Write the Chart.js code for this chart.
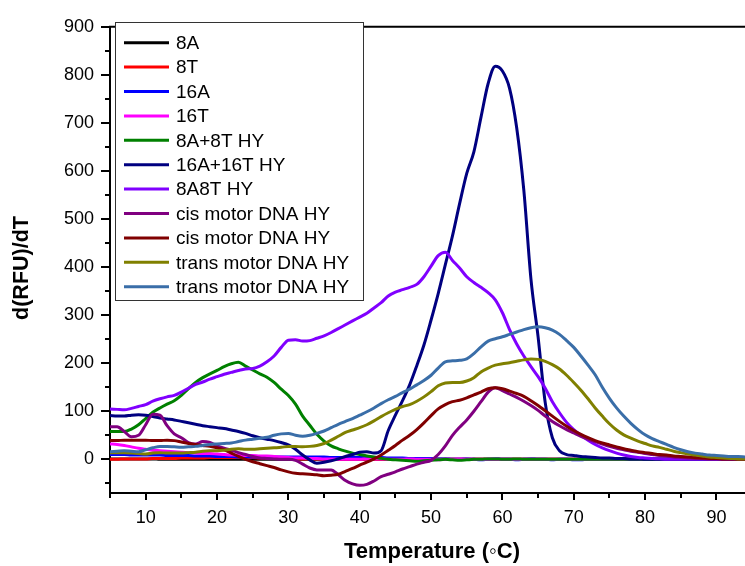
<!DOCTYPE html>
<html>
<head>
<meta charset="utf-8">
<script src="https://cdn.jsdelivr.net/npm/chart.js@4.4.1/dist/chart.umd.min.js"></script>
<style>
    html, body { margin: 0; padding: 0; background: #fff; }
    #wrap { width: 745px; height: 566px; }
</style>
</head>
<body>
<div id="wrap"><canvas id="melt-chart" width="745" height="566"></canvas></div>
<script>
// temperatura (°C), um ponto por grau
const temps = [
    5, 6, 7, 8, 9, 10, 11, 12, 13, 14,
    15, 16, 17, 18, 19, 20, 21, 22, 23, 24,
    25, 26, 27, 28, 29, 30, 31, 32, 33, 34,
    35, 36, 37, 38, 39, 40, 41, 42, 43, 44,
    45, 46, 47, 48, 49, 50, 51, 52, 53, 54,
    55, 56, 57, 58, 59, 60, 61, 62, 63, 64,
    65, 66, 67, 68, 69, 70, 71, 72, 73, 74,
    75, 76, 77, 78, 79, 80, 81, 82, 83, 84,
    85, 86, 87, 88, 89, 90, 91, 92, 93, 94
];

const seriesNames = [
    '8A', '8T', '16A', '16T', '8A+8T HY', '16A+16T HY', '8A8T HY',
    'cis motor DNA HY', 'cis motor DNA HY', 'trans motor DNA HY', 'trans motor DNA HY'
];

const seriesColors = [
    '#000000', '#FF0000', '#0000FF', '#FF00FF', '#008000', '#000080', '#8000FF',
    '#800080', '#800000', '#808000', '#3A6EA8'
];

const a8 = [
    1, 1, 1, 1, 1, 1, 1, 0, 0, 0,
    0, 0, 0, 0, 0, 0, 0, 0, 0, 0,
    0, 0, 0, 0, 0, 0, 0, 0, 0, 0,
    0, 0, 0, 0, 0, 0, 0, 0, 0, 0,
    0, 0, 0, 0, 0, 0, 0, 0, 0, 0,
    0, 0, 0, 0, 0, 0, 0, 0, 0, 0,
    0, 0, 0, 0, 0, 0, 0, 0, 0, 0,
    0, 0, 0, 0, 0, 0, 0, 0, 0, 0,
    0, 0, 0, 0, 0, 0, 0, 0, 0, 0
];
const t8 = [
    0, 0, 1, 1, 1, 1, 2, 2, 2, 2,
    3, 3, 3, 3, 4, 4, 4, 4, 4, 4,
    4, 3, 3, 3, 2, 2, 2, 1, 1, 1,
    1, 1, 0, 0, 0, 0, 0, 0, 0, 0,
    0, 0, 0, 0, 0, 0, 0, 0, 0, 0,
    0, 0, 0, 0, 0, 0, 0, 0, 0, 0,
    0, 0, 0, 0, 0, 0, 0, 0, 0, 0,
    0, 0, 0, 0, 0, 0, 0, 0, 0, 0,
    0, 0, 0, 0, 0, 0, 0, 0, 0, 0
];
const a16 = [
    10, 10, 10, 9, 9, 9, 9, 9, 8, 8,
    8, 8, 7, 7, 7, 6, 6, 6, 5, 5,
    5, 5, 5, 5, 5, 5, 5, 5, 5, 5,
    5, 4, 4, 4, 4, 4, 4, 4, 4, 3,
    3, 3, 2, 2, 2, 2, 1, 1, 0, 0,
    1, 0, -1, 0, 1, 0, 0, -1, 0, 1,
    0, 0, -1, 0, 0, -1, -1, 0, 0, 0,
    0, 0, 0, 0, 0, 0, 0, 0, 0, 0,
    0, 0, 0, 0, 0, 0, 0, 0, 0, 0
];
const t16 = [
    32, 31, 29, 26, 23, 21, 19, 18, 17, 16,
    15, 14, 13, 12, 12, 11, 10, 9, 9, 8,
    8, 7, 7, 6, 5, 4, 3, 3, 2, 2,
    1, 1, 0, 0, 0, 0, 1, 1, 1, 0,
    0, 0, 1, 0, 0, 0, -1, 0, 0, 1,
    0, 0, 0, 0, 0, 0, 0, 0, 0, 0,
    0, 0, 0, 0, 0, 0, 0, 0, 0, 0,
    0, 0, 0, 0, 0, 0, 0, 0, 0, 0,
    0, 0, 0, 0, 0, 0, 0, 0, 0, 0
];
const hy8 = [
    58, 58, 58, 63, 72, 85, 98, 107, 115, 122,
    133, 147, 160, 170, 178, 185, 193, 199, 202, 194,
    186, 178, 171, 160, 146, 133, 115, 90, 71, 52,
    38, 28, 22, 17, 13, 10, 7, 5, 2, 0,
    -1, -2, -3, -4, -3, -2, -1, 0, -1, -2,
    -1, 0, 0, 1, 1, 0, 0, 1, 0, 0,
    0, 0, 0, 0, 0, 0, 0, 0, 0, 0,
    0, 0, 0, 0, 0, 0, 0, 0, 0, 0,
    0, 0, 0, 0, 0, 0, 0, 0, 0, 0
];
const hy16 = [
    91, 90, 90, 92, 93, 92, 89, 86, 84, 82,
    79, 76, 73, 70, 68, 66, 64, 61, 58, 54,
    49, 45, 42, 39, 35, 30, 21, 9, -1, -8,
    -6, -3, 1, 6, 10, 15, 16, 13, 18, 60,
    92, 122, 155, 195, 238, 290, 345, 405, 465, 532,
    595, 640, 712, 782, 818, 808, 772, 690, 560, 375,
    255, 118, 45, 18, 10, 8, 6, 5, 4, 3,
    3, 2, 2, 1, 1, 0, 0, 0, 0, 0,
    0, 0, 0, 0, 0, 0, 0, 0, 0, 0
];
const hy8a8t = [
    105, 104, 103, 106, 110, 114, 121, 126, 130, 133,
    140, 148, 156, 161, 167, 172, 177, 181, 185, 188,
    189, 194, 203, 215, 233, 248, 249, 246, 247, 252,
    257, 264, 272, 280, 288, 296, 304, 315, 326, 340,
    348, 353, 358, 364, 380, 402, 424, 431, 414, 398,
    380, 368, 358, 347, 332, 305, 270, 240, 215, 193,
    172, 148, 120, 97, 77, 62, 50, 40, 31, 24,
    18, 13, 9, 6, 4, 3, 2, 1, 0, 0,
    0, 0, 0, 0, 0, 0, 0, 0, 0, 0
];
const cisA = [
    68, 68, 58, 47, 50, 72, 94, 92, 70, 53,
    45, 35, 32, 37, 35, 28, 23, 19, 14, 10,
    6, 3, 2, 1, 0, 0, -2, -10, -18, -22,
    -22, -22, -32, -44, -51, -54, -52, -45, -36, -31,
    -26, -20, -15, -10, -6, -2, 10, 28, 50, 67,
    82, 100, 120, 140, 149, 143, 136, 129, 121, 112,
    102, 90, 79, 70, 62, 55, 48, 42, 37, 32,
    27, 23, 20, 17, 15, 12, 10, 8, 7, 5,
    4, 3, 2, 2, 1, 1, 0, 0, 0, 0
];
const cisB = [
    39, 39, 40, 40, 40, 40, 39, 39, 40, 39,
    36, 33, 31, 29, 27, 24, 20, 13, 6, 0,
    -5, -9, -13, -17, -22, -26, -29, -30, -31, -32,
    -34, -33, -31, -25, -19, -12, -6, 1, 9, 19,
    29, 40, 50, 62, 76, 91, 105, 114, 120, 123,
    128, 134, 140, 147, 149, 147, 142, 137, 131, 122,
    112, 101, 90, 79, 69, 60, 52, 45, 39, 34,
    30, 26, 22, 19, 16, 14, 12, 10, 9, 7,
    6, 5, 4, 3, 2, 2, 1, 1, 0, 0
];
const transA = [
    14, 14, 14, 13, 12, 11, 13, 14, 13, 13,
    13, 14, 15, 17, 18, 18, 19, 21, 22, 21,
    21, 22, 23, 24, 25, 27, 27, 26, 27, 29,
    33, 40, 48, 56, 61, 66, 72, 80, 89, 97,
    104, 110, 114, 121, 130, 141, 153, 159, 160, 160,
    163, 170, 182, 190, 196, 199, 201, 204, 207, 209,
    208, 204, 197, 188, 175, 160, 144, 126, 107, 90,
    74, 61, 51, 44, 38, 33, 28, 25, 21, 17,
    14, 11, 9, 7, 5, 4, 3, 2, 1, 1
];
const transB = [
    16, 17, 18, 17, 16, 20, 24, 27, 27, 26,
    25, 26, 27, 29, 31, 32, 33, 34, 37, 40,
    42, 44, 46, 50, 53, 54, 50, 48, 50, 54,
    59, 66, 73, 79, 85, 92, 99, 107, 116, 124,
    131, 139, 146, 155, 164, 175, 190, 203, 205, 206,
    209, 220, 234, 246, 251, 255, 260, 265, 270, 274,
    276, 274, 269, 260, 247, 233, 215, 196, 176, 150,
    127, 107, 90, 75, 62, 51, 43, 37, 31, 25,
    20, 16, 13, 11, 9, 8, 7, 6, 6, 5
];

const seriesValues = [a8, t8, a16, t16, hy8, hy16, hy8a8t, cisA, cisB, transA, transB];

const xTicks = [10, 20, 30, 40, 50, 60, 70, 80, 90];
const xMinorTicks = [5, 15, 25, 35, 45, 55, 65, 75, 85];
const yTicks = [0, 100, 200, 300, 400, 500, 600, 700, 800, 900];
const yMinorTicks = [-50, 50, 150, 250, 350, 450, 550, 650, 750, 850];

const xTitle = 'Temperature (\u25E6C)';
const yTitle = 'd(RFU)/dT';

const FONT = "'Liberation Sans', Arial, sans-serif";

// eixos estilo Origin: traços para fora, linha no topo, títulos e legenda em caixa
const originFrame = {
    id: 'originFrame',
    afterDatasetsDraw(chart) {
        const ctx = chart.ctx;
        const area = chart.chartArea;
        const xs = chart.scales.x;
        const ys = chart.scales.y;

        ctx.save();
        ctx.strokeStyle = '#000';
        ctx.lineWidth = 2;

        ctx.beginPath();
        ctx.moveTo(area.left - 1, area.top);
        ctx.lineTo(area.right, area.top);
        ctx.stroke();

        const tick = (x1, y1, x2, y2) => {
            ctx.beginPath();
            ctx.moveTo(x1, y1);
            ctx.lineTo(x2, y2);
            ctx.stroke();
        };
        xTicks.forEach((v) => {
            const px = Math.round(xs.getPixelForValue(v));
            tick(px, area.bottom, px, area.bottom + 7);
        });
        xMinorTicks.forEach((v) => {
            const px = Math.round(xs.getPixelForValue(v));
            tick(px, area.bottom, px, area.bottom + 5);
        });
        yTicks.forEach((v) => {
            const py = Math.round(ys.getPixelForValue(v));
            tick(area.left, py, area.left - 9, py);
        });
        yMinorTicks.forEach((v) => {
            const py = Math.round(ys.getPixelForValue(v));
            tick(area.left, py, area.left - 5, py);
        });

        // títulos dos eixos
        ctx.fillStyle = '#000';
        ctx.font = `bold 22px ${FONT}`;
        ctx.textAlign = 'center';
        ctx.textBaseline = 'middle';
        ctx.fillText(xTitle, 432, 552);

        ctx.save();
        ctx.translate(22, 268);
        ctx.rotate(-Math.PI / 2);
        ctx.font = `bold 21.5px ${FONT}`;
        ctx.fillText(yTitle, 0, 0);
        ctx.restore();

        // legenda
        const box = { x: 115.5, y: 22.5, w: 248, h: 278 };
        ctx.fillStyle = '#fff';
        ctx.fillRect(box.x, box.y, box.w, box.h);
        ctx.lineWidth = 1;
        ctx.strokeStyle = '#333';
        ctx.strokeRect(box.x, box.y, box.w, box.h);

        ctx.font = `19px ${FONT}`;
        ctx.textBaseline = 'middle';
        ctx.textAlign = 'left';
        seriesNames.forEach((name, i) => {
            const cy = 42.7 + i * 24.4;
            ctx.strokeStyle = seriesColors[i];
            ctx.lineWidth = 3;
            tick(124, cy, 169, cy);
            ctx.fillStyle = '#000';
            ctx.fillText(name, 176, cy + 1);
        });
        ctx.restore();
    }
};

function buildDatasets() {
    return seriesNames.map((name, i) => ({
        label: name,
        data: temps.map((t, k) => ({ x: t, y: seriesValues[i][k] })),
        borderColor: seriesColors[i],
        backgroundColor: seriesColors[i],
        borderWidth: 3,
        pointRadius: 0,
        fill: false,
        cubicInterpolationMode: 'monotone',
        order: seriesNames.length - 1 - i
    }));
}

Chart.defaults.font.family = FONT;
Chart.defaults.color = '#000';

new Chart(document.getElementById('melt-chart'), {
    type: 'line',
    data: { datasets: buildDatasets() },
    options: {
        responsive: false,
        animation: false,
        devicePixelRatio: 1,
        layout: { padding: { top: 19, right: 0, bottom: 0, left: 0 } },
        scales: {
            x: {
                type: 'linear',
                min: 5,
                max: 94,
                afterBuildTicks: (scale) => { scale.ticks = xTicks.map((v) => ({ value: v })); },
                afterFit: (scale) => { scale.height = 73; },
                grid: { display: false, drawTicks: false },
                border: { display: true, color: '#000', width: 2 },
                ticks: { font: { size: 18 }, color: '#000', padding: 14, maxRotation: 0 },
                title: { display: false }
            },
            y: {
                type: 'linear',
                min: -70,
                max: 900,
                afterBuildTicks: (scale) => { scale.ticks = yTicks.map((v) => ({ value: v })); },
                afterFit: (scale) => { scale.width = 110; },
                grid: { display: false, drawTicks: false },
                border: { display: true, color: '#000', width: 2 },
                ticks: { font: { size: 18 }, color: '#000', padding: 16 },
                title: { display: false }
            }
        },
        plugins: {
            legend: { display: false },
            tooltip: { enabled: false }
        }
    },
    plugins: [originFrame]
});
</script>
</body>
</html>
